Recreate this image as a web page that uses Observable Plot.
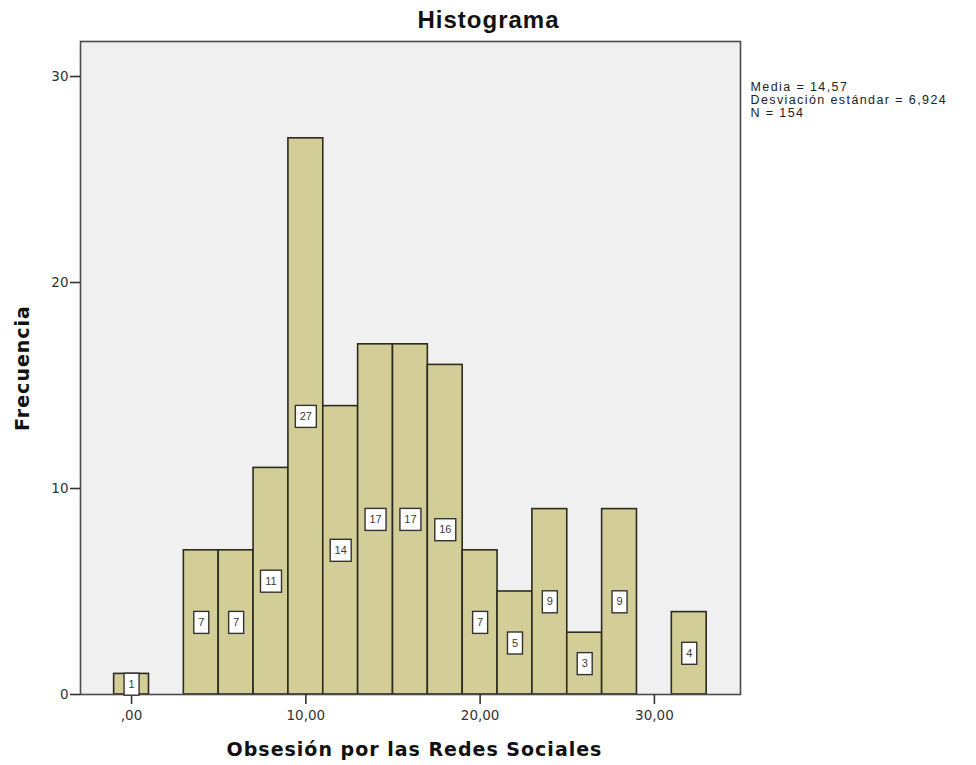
<!DOCTYPE html>
<html>
<head>
<meta charset="utf-8">
<script src="https://cdn.jsdelivr.net/npm/d3@7"></script>
<script src="https://cdn.jsdelivr.net/npm/@observablehq/plot@0.6"></script>
<style>
  html, body { margin: 0; padding: 0; background: #fff; }
  #chart svg { display: block; }
</style>
</head>
<body>
<div id="chart"></div>
<script>
// Bin centres (bin width = 2) and their frequencies
const binCenters = [0, 4, 6, 8, 10, 12, 14, 16, 18, 20, 22, 24, 26, 28, 30, 32];
const frequencies = [1, 7, 7, 11, 27, 14, 17, 17, 16, 7, 5, 9, 3, 9, 0, 4];
const binWidth = 2;
const yTicks = [0, 10, 20, 30];
const xTicks = [0, 10, 20, 30];
const xTickLabels = [",00", "10,00", "20,00", "30,00"];
const statsLines = ["Media = 14,57", "Desviación estándar = 6,924", "N = 154"];

const bins = binCenters.map((c, i) => ({center: c, count: frequencies[i]})).filter(d => d.count > 0);

const ns = "http://www.w3.org/2000/svg";
const tickFont = "'DejaVu Sans', Verdana, sans-serif";

const chart = Plot.plot({
  width: 976,
  height: 765,
  marginLeft: 80,
  marginRight: 236,
  marginTop: 41,
  marginBottom: 71,
  style: {fontFamily: tickFont, fontSize: "13px", color: "#333", background: "#fff"},
  x: {domain: [-2.93, 34.94], label: null},
  y: {domain: [0, 31.7], label: null},
  marks: [
    Plot.frame({fill: "#f0f0f0"}),
    Plot.rectY(bins, {
      x1: d => d.center - binWidth / 2,
      x2: d => d.center + binWidth / 2,
      y1: 0,
      y2: "count",
      fill: "#d3ce98",
      stroke: "#2b2b1e",
      strokeWidth: 1.6
    }),
    Plot.frame({stroke: "#4a4a4a", strokeWidth: 1.6}),
    Plot.axisX({ticks: xTicks, tickFormat: d => xTickLabels[xTicks.indexOf(d)], tickSize: 10, tickPadding: 6, stroke: "#333", strokeWidth: 1.6, fontSize: 13.5, fill: "#333", label: null}),
    Plot.axisY({ticks: yTicks, tickSize: 10, tickPadding: 2, stroke: "#333", strokeWidth: 1.6, fontSize: 13.5, fill: "#333", label: null}),
    Plot.text(bins, {
      x: "center",
      y: d => d.count / 2,
      text: d => String(d.count),
      fontSize: 11,
      fontFamily: "'Liberation Sans', Arial, sans-serif",
      fill: "#3a3a3a",
      render(index, scales, values, dimensions, context, next) {
        const g = next(index, scales, values, dimensions, context);
        const first = g.firstChild;
        for (const i of index) {
          const label = String(bins[i].count);
          const w = 9 + 6 * label.length;
          const h = 22;
          const r = document.createElementNS(ns, "rect");
          r.setAttribute("x", values.x[i] - w / 2);
          r.setAttribute("y", values.y[i] - h / 2);
          r.setAttribute("width", w);
          r.setAttribute("height", h);
          r.setAttribute("fill", "#ffffff");
          r.setAttribute("stroke", "#333");
          r.setAttribute("stroke-width", "1.4");
          g.insertBefore(r, first);
        }
        return g;
      }
    }),
    Plot.text(["Histograma"], {
      frameAnchor: "top", dx: 78, dy: -21, text: d => d,
      fontSize: 24, fontWeight: "bold", fill: "#111", lineAnchor: "middle",
      fontFamily: "'Liberation Sans', Arial, sans-serif"
    }),
    Plot.text(["Frecuencia"], {
      frameAnchor: "left", dx: -58, rotate: -90, text: d => d,
      textAnchor: "middle",
      fontSize: 19, fontWeight: "bold", fill: "#111"
    }),
    Plot.text(["Obsesión por las Redes Sociales"], {
      frameAnchor: "bottom", dx: 4, dy: 61, text: d => d,
      fontSize: 19, fontWeight: "bold", fill: "#111"
    }),
    ...statsLines.map((line, i) =>
      Plot.text([line], {
        frameAnchor: "top-right", dx: 10, dy: 45 + 13 * i, text: d => d,
        textAnchor: "start", lineAnchor: "middle",
        fontSize: 12.5, fill: "#222",
        fontFamily: "'Liberation Sans', Arial, sans-serif"
      })
    )
  ]
});

// letter spacing on titles and the statistics box
chart.querySelectorAll("text").forEach(t => {
  const s = t.textContent;
  if (s === "Obsesión por las Redes Sociales" || s === "Frecuencia" || s === "Histograma") {
    t.setAttribute("letter-spacing", "1");
  }
  if (statsLines.includes(s)) {
    t.setAttribute("letter-spacing", "1.4");
  }
});

document.getElementById("chart").appendChild(chart);
</script>
</body>
</html>
